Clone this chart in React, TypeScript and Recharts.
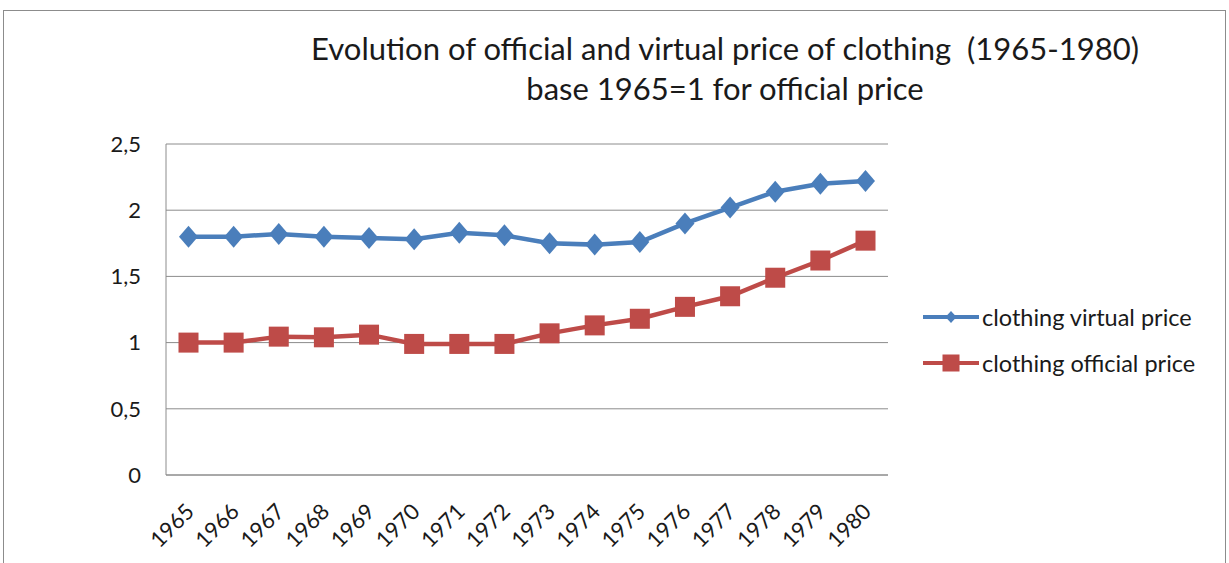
import { LineChart, Line, XAxis, YAxis, CartesianGrid, Legend } from "recharts"

const years = ["1965", "1966", "1967", "1968", "1969", "1970", "1971", "1972", "1973", "1974", "1975", "1976", "1977", "1978", "1979", "1980"]
const virtualPrice = [1.8, 1.8, 1.82, 1.8, 1.79, 1.78, 1.83, 1.81, 1.75, 1.74, 1.76, 1.9, 2.02, 2.14, 2.2, 2.22]
const officialPrice = [1.0, 1.0, 1.045, 1.04, 1.06, 0.99, 0.99, 0.99, 1.07, 1.13, 1.18, 1.27, 1.35, 1.49, 1.62, 1.77]
const yTicks = [0, 0.5, 1, 1.5, 2, 2.5]

const BLUE = "#4a7ebb"
const RED = "#be4b48"
const FONT = "Lato, 'Open Sans', sans-serif"

const data = years.map((y, i) => ({
  year: y,
  virtual: virtualPrice[i],
  official: officialPrice[i],
}))

const Diamond = (props: any) => {
  const { cx, cy } = props
  if (cx == null || cy == null) return null
  const w = 9.5
  const h = 11
  return <polygon points={`${cx},${cy - h} ${cx + w},${cy} ${cx},${cy + h} ${cx - w},${cy}`} fill={BLUE} />
}

const Square = (props: any) => {
  const { cx, cy } = props
  if (cx == null || cy == null) return null
  const s = 10
  return <rect x={cx - s} y={cy - s} width={s * 2} height={s * 2} fill={RED} />
}

const XTick = (props: any) => {
  const { x, y, payload } = props
  const ax = x + 7
  const ay = y + 30
  return (
    <text
      x={ax}
      y={ay}
      transform={`rotate(-45 ${ax} ${ay})`}
      textAnchor="end"
      fontSize={22}
      fontFamily={FONT}
      fill="#1a1a1a"
    >
      {payload.value}
    </text>
  )
}

const legendItems = [
  { label: "clothing virtual price", color: BLUE, shape: "diamond" },
  { label: "clothing official price", color: RED, shape: "square" },
]

const LegendBox = () => (
  <div style={{ paddingLeft: 34, fontFamily: FONT, fontSize: 23.5, color: "#1a1a1a", whiteSpace: "nowrap" }}>
    {legendItems.map((it) => (
      <div key={it.label} style={{ display: "flex", alignItems: "center", height: 46 }}>
        <svg width={58} height={20} style={{ marginRight: 2, flexShrink: 0 }}>
          <line x1={1} y1={10} x2={57} y2={10} stroke={it.color} strokeWidth={4} />
          {it.shape === "diamond" ? (
            <polygon points="29,4 34.5,10 29,16 23.5,10" fill={it.color} />
          ) : (
            <rect x={20.5} y={1.5} width={17} height={17} fill={it.color} />
          )}
        </svg>
        <span>{it.label}</span>
      </div>
    ))}
  </div>
)

export default function App() {
  return (
    <div style={{ position: "absolute", left: 0, top: 0, width: 1229, height: 563, background: "#fff", overflow: "hidden" }}>
      <div
        style={{
          position: "absolute",
          left: 3,
          top: 10,
          width: 1221,
          height: 560,
          borderTop: "1px solid #8c8c8c",
          borderLeft: "1px solid #8c8c8c",
          borderRight: "1px solid #8c8c8c",
        }}
      />
      <div
        style={{
          position: "absolute",
          left: 225,
          width: 1000,
          top: 28,
          textAlign: "center",
          fontFamily: FONT,
          fontSize: 31,
          lineHeight: "40px",
          color: "#1a1a1a",
          whiteSpace: "pre",
        }}
      >
        {"Evolution of official and virtual price of clothing  (1965-1980)\nbase 1965=1 for official price"}
      </div>
      <LineChart width={1229} height={563} data={data} margin={{ top: 144, right: 36, bottom: 28, left: 106 }} style={{ position: "absolute", left: 0, top: 0 }}>
        <CartesianGrid vertical={false} stroke="#8c8c8c" />
        <XAxis
          dataKey="year"
          height={60}
          tick={<XTick />}
          tickLine={false}
          axisLine={{ stroke: "#8c8c8c" }}
          interval={0}
          padding={{ left: 22.5, right: 22.5 }}
        />
        <YAxis
          width={60}
          domain={[0, 2.5]}
          ticks={yTicks}
          tickFormatter={(v: number) => String(v).replace(".", ",")}
          tick={{ fontSize: 22, fontFamily: FONT, fill: "#1a1a1a" }}
          tickLine={false}
          axisLine={{ stroke: "#8c8c8c" }}
          tickMargin={19}
        />
        <Legend
          layout="vertical"
          align="right"
          verticalAlign="middle"
          content={<LegendBox />}
          wrapperStyle={{ width: 305, top: 294 }}
        />
        <Line dataKey="virtual" name="clothing virtual price" stroke={BLUE} strokeWidth={4.5} dot={<Diamond />} activeDot={false} isAnimationActive={false} />
        <Line dataKey="official" name="clothing official price" stroke={RED} strokeWidth={4.5} dot={<Square />} activeDot={false} isAnimationActive={false} />
      </LineChart>
    </div>
  )
}
